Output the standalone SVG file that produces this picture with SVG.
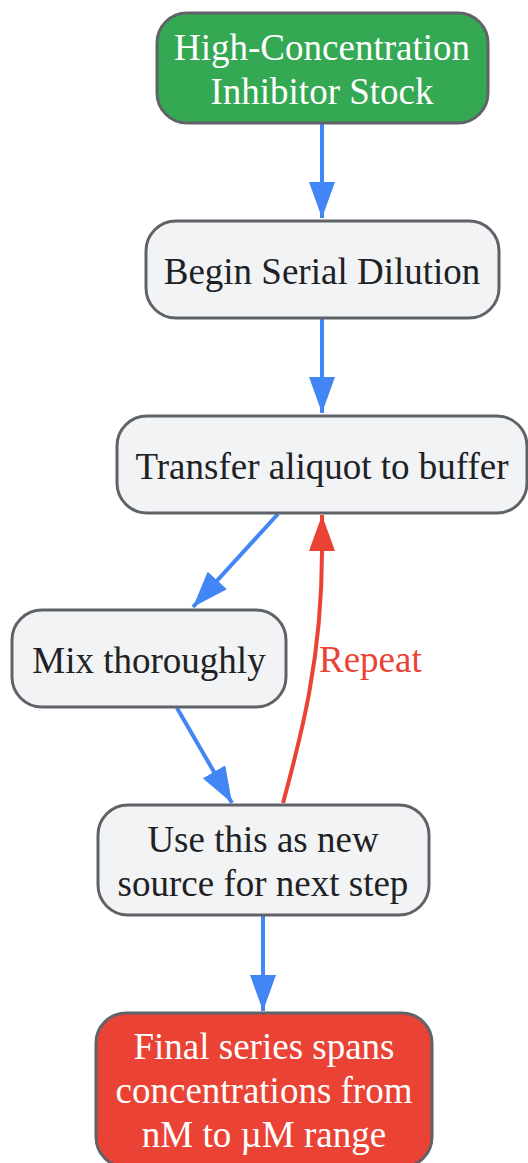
<svg xmlns="http://www.w3.org/2000/svg" width="528" height="1163" viewBox="0 0 528 1163">
<style>
.n{stroke:#5f6368;stroke-width:3}
.g{fill:#f1f3f4}
.t{font-family:"Liberation Serif","Times New Roman",serif;font-size:37px;text-anchor:middle;fill:#202124}
.w{fill:#ffffff}
.e{fill:none;stroke:#4285f4;stroke-width:4}
.r{fill:none;stroke:#ea4335;stroke-width:4}
</style>
<defs>
<marker id="ab" markerUnits="userSpaceOnUse" markerWidth="36" markerHeight="26" refX="36" refY="13" orient="auto"><path d="M0,0 L36,13 L0,26 z" fill="#4285f4"/></marker>
<marker id="ar" markerUnits="userSpaceOnUse" markerWidth="36" markerHeight="26" refX="36" refY="13" orient="auto"><path d="M0,0 L36,13 L0,26 z" fill="#ea4335"/></marker>
</defs>
<g id="connectors">
<line class="e" x1="322" y1="123" x2="322" y2="218" marker-end="url(#ab)"/>
<line class="e" x1="322" y1="318" x2="322" y2="413" marker-end="url(#ab)"/>
<line class="e" x1="278" y1="514" x2="193" y2="607" marker-end="url(#ab)"/>
<line class="e" x1="177" y1="708" x2="232" y2="803" marker-end="url(#ab)"/>
<line class="e" x1="263" y1="915" x2="263" y2="1011" marker-end="url(#ab)"/>
<path class="r" d="M283,803 C300,740 322,660 322,552 L322,515" marker-end="url(#ar)"/>
<text class="t" x="319" y="672" style="text-anchor:start;fill:#ea4335">Repeat</text>
</g>
<g id="stock">
<rect class="n" x="157" y="13" width="331" height="110" rx="30" fill="#34a853"/>
<text class="t w" x="322" y="60">High-Concentration</text>
<text class="t w" x="322" y="104">Inhibitor Stock</text>
</g>
<g id="begin">
<rect class="n g" x="146" y="221" width="353" height="97" rx="30"/>
<text class="t" x="322" y="284">Begin Serial Dilution</text>
</g>
<g id="transfer">
<rect class="n g" x="117" y="416" width="410" height="97" rx="30"/>
<text class="t" x="322" y="479">Transfer aliquot to buffer</text>
</g>
<g id="mix">
<rect class="n g" x="12" y="610" width="274" height="97" rx="30"/>
<text class="t" x="149" y="673">Mix thoroughly</text>
</g>
<g id="use">
<rect class="n g" x="98" y="805" width="331" height="110" rx="30"/>
<text class="t" x="263" y="852">Use this as new</text>
<text class="t" x="263" y="896">source for next step</text>
</g>
<g id="final">
<rect class="n" x="96" y="1013" width="336" height="154" rx="30" fill="#ea4335"/>
<text class="t w" x="264" y="1059">Final series spans</text>
<text class="t w" x="264" y="1103">concentrations from</text>
<text class="t w" x="264" y="1147">nM to µM range</text>
</g>
</svg>
